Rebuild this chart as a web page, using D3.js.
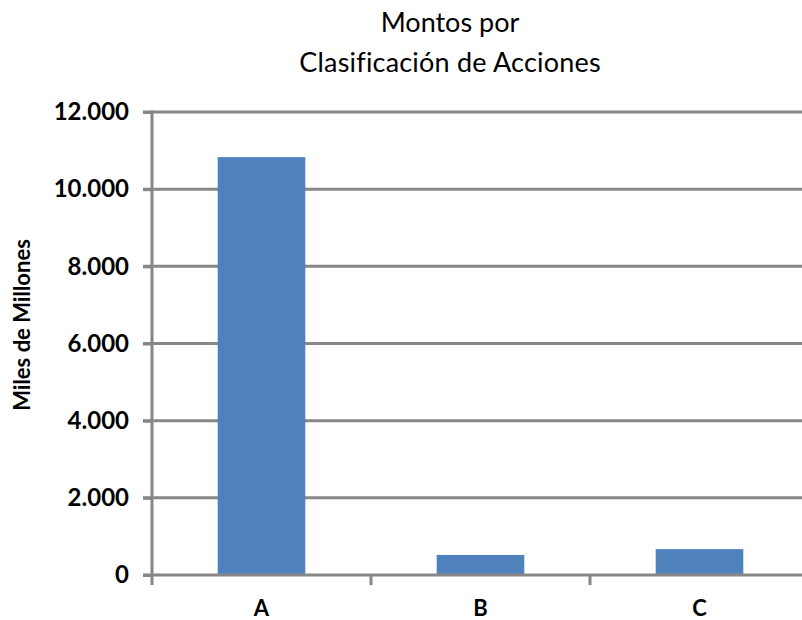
<!DOCTYPE html>
<html><head><meta charset="utf-8">
<script src="https://cdn.jsdelivr.net/npm/d3@7"></script>
<style>body{margin:0;background:#fff}svg{display:block}text{font-family:Lato,"Open Sans",sans-serif;font-variant-ligatures:none;font-feature-settings:"liga" 0,"clig" 0}</style>
</head><body>
<svg id="c" width="802" height="620"></svg>
<script>
const categories = ["A","B","C"];
const values = [10830, 520, 670];
const yTicks = [0,2000,4000,6000,8000,10000,12000];
const titleLines = ["Montos por","Clasificación de Acciones"];
const yTitle = "Miles de Millones";

const svg = d3.select("#c");
const m = {left:152, right:809, top:112, bottom:575};
const x = d3.scaleBand().domain(categories).range([m.left,m.right]).paddingInner(0.6).paddingOuter(0.3);
const y = d3.scaleLinear().domain([0,12000]).range([m.bottom,m.top]);
const fmt = d => d3.format(",")(d).replace(/,/g,".");
const gray = "#878787";

// gridlines
svg.append("g").selectAll("line").data(yTicks.filter(d=>d>0)).join("line")
  .attr("x1",m.left-9).attr("x2",802).attr("y1",d=>y(d)).attr("y2",d=>y(d))
  .attr("stroke",gray).attr("stroke-width",3);

// bars
svg.append("g").selectAll("rect").data(values).join("rect")
  .attr("x",(d,i)=>x(categories[i])).attr("width",x.bandwidth())
  .attr("y",d=>y(d)).attr("height",d=>y(0)-y(d)).attr("fill","#4F81BD");

// y axis
const ya = svg.append("g").attr("transform",`translate(${m.left},0)`)
  .call(d3.axisLeft(y).tickValues(yTicks).tickFormat(fmt).tickSize(9).tickPadding(14));
ya.select(".domain").attr("stroke",gray).attr("stroke-width",3).attr("d",`M0,${m.top-1.5}V${m.bottom}`);
ya.selectAll(".tick line").attr("stroke",gray).attr("stroke-width",3);
ya.selectAll(".tick text").attr("font-size",24).attr("font-weight","bold").attr("fill","#000")
  .attr("font-family","Lato,sans-serif");

// x axis
const xa = svg.append("g").attr("transform",`translate(0,${m.bottom})`)
  .call(d3.axisBottom(x).tickSize(0).tickPadding(25));
xa.select(".domain").attr("stroke",gray).attr("stroke-width",3).attr("d",`M${m.left-9},0H802`);
xa.selectAll(".tick text").attr("font-size",22).attr("font-weight","bold").attr("fill","#000")
  .attr("font-family","Lato,sans-serif");
const step = x.step();
const bounds = [m.left, m.left+step, m.left+2*step];
svg.append("g").selectAll("line").data(bounds).join("line")
  .attr("x1",d=>d).attr("x2",d=>d).attr("y1",m.bottom).attr("y2",m.bottom+10)
  .attr("stroke",gray).attr("stroke-width",3);

// title
svg.append("text").attr("x",450).attr("y",32).attr("text-anchor","middle")
  .attr("font-size",27).attr("fill","#000").text(titleLines[0]);
svg.append("text").attr("x",450).attr("y",72).attr("text-anchor","middle")
  .attr("font-size",27).attr("fill","#000").attr("letter-spacing","0.2")
  .style("font-variant-ligatures","none").text(titleLines[1]);

// y title
svg.append("text").attr("transform","translate(30,325) rotate(-90)").attr("text-anchor","middle")
  .attr("font-size",22).attr("font-weight","bold").attr("fill","#000").text(yTitle);
</script>
</body></html>
